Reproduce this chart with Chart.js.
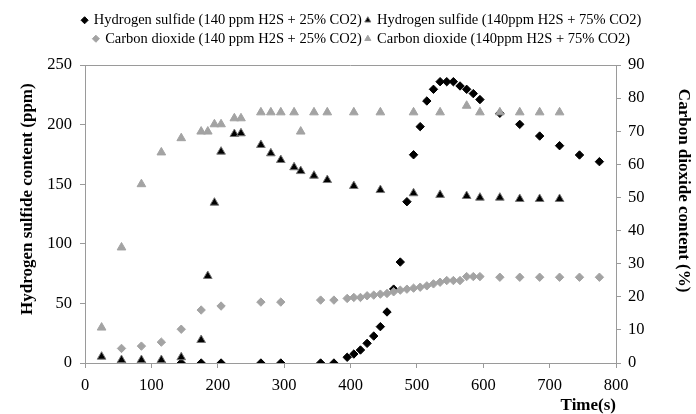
<!DOCTYPE html>
<html>
<head>
<meta charset="utf-8">
<script src="https://cdn.jsdelivr.net/npm/chart.js@4.4.0/dist/chart.umd.min.js"></script>
<style>
  body { margin: 0; background: #fff; }
  canvas { display: block; }
</style>
</head>
<body>
<canvas id="chart" width="696" height="414"></canvas>
<script>
// 140 ppm H2S + 25% CO2
const timeA = [55, 85, 115, 145, 175, 205, 265, 295, 355, 375, 395, 405, 415, 425, 435, 445, 455, 465, 475, 485,
    495, 505, 515, 525, 535, 545, 555, 565, 575, 585, 595, 625, 655, 685, 715, 745, 775];
const h2sA = [0, 0, 0, 0, 0, 0, 0, 0, 0, 0, 4.8, 7.5, 10.9, 16.5, 22.6, 30.5, 42.8, 62, 84.7, 135.3,
    174.7, 198.3, 219.8, 229.6, 236, 236, 236, 232.4, 229.6, 226, 221, 209.5, 200.2, 190.4, 182.3, 174.5, 168.9];
const co2A = [4.4, 5.1, 6.3, 10.2, 16.0, 17.2, 18.4, 18.4, 19.0, 19.0, 19.5, 19.8, 19.8, 20.3, 20.5, 20.8, 21.0, 21.5, 22.0, 22.3,
    22.6, 22.9, 23.3, 23.9, 24.4, 24.9, 24.9, 24.9, 26.1, 26.1, 26.1, 25.9, 25.9, 25.9, 25.9, 25.9, 25.9];

// 140ppm H2S + 75% CO2
const timeB = [25, 55, 85, 115, 145, 175, 185, 195, 205, 225, 235, 265, 280, 295, 315, 325, 345, 365, 405, 445,
    495, 535, 575, 595, 625, 655, 685, 715];
const h2sB = [5.3, 2.5, 2.5, 2.5, 4.8, 19.3, 73, 134.5, 177.3, 192.1, 192.7, 182.9, 175.9, 170.3, 164.2, 161, 157.1, 153.5, 148.5, 145.1,
    142.4, 141, 140.1, 138.7, 138.7, 137.6, 137.6, 137.6];
const co2B = [10.7, 34.9, 54.0, 63.6, 67.9, 69.9, 69.9, 72.1, 72.1, 73.9, 73.9, 75.7, 75.7, 75.7, 75.7, 69.9, 75.7, 75.7, 75.7, 75.7,
    75.7, 75.7, 77.7, 75.7, 75.7, 75.7, 75.7, 75.7];

const seriesNames = [
    'Hydrogen sulfide (140 ppm H2S + 25% CO2)',
    'Hydrogen sulfide (140ppm H2S + 75% CO2)',
    'Carbon dioxide (140 ppm H2S + 25% CO2)',
    'Carbon dioxide (140ppm H2S + 75% CO2)'
];

const GRAY = '#a3a3a3';
const AXIS = '#9a9a9a';
const SERIF = '"Liberation Serif", "Times New Roman", serif';

function toPoints(xs, ys) {
    return xs.map((x, i) => ({ x: x, y: ys[i] }));
}

// box line on top of the plot area, and a bit more room under the legend
const topBorder = {
    id: 'topBorder',
    afterInit(chart) {
        const lg = chart.legend;
        const fit = lg.fit;
        lg.fit = function () { fit.call(this); this.height += 9; };
    },
    afterDraw(chart) {
        const a = chart.chartArea, ctx = chart.ctx;
        ctx.save();
        ctx.strokeStyle = AXIS;
        ctx.lineWidth = 1;
        ctx.beginPath();
        ctx.moveTo(a.left, a.top + 0.5);
        ctx.lineTo(a.right, a.top + 0.5);
        ctx.stroke();
        ctx.restore();
    }
};

new Chart(document.getElementById('chart'), {
    type: 'scatter',
    data: {
        datasets: [{
            label: seriesNames[0],
            data: toPoints(timeA, h2sA),
            yAxisID: 'y',
            pointStyle: 'rectRot',
            pointRadius: 4.2,
            backgroundColor: '#000',
            borderColor: '#000',
            borderWidth: 1,
            order: 4
        }, {
            label: seriesNames[1],
            data: toPoints(timeB, h2sB),
            yAxisID: 'y',
            pointStyle: 'triangle',
            pointRadius: 5,
            backgroundColor: '#000',
            borderColor: '#777',
            borderWidth: 1,
            order: 3
        }, {
            label: seriesNames[2],
            data: toPoints(timeA, co2A),
            yAxisID: 'y2',
            pointStyle: 'rectRot',
            pointRadius: 4.2,
            backgroundColor: GRAY,
            borderColor: GRAY,
            borderWidth: 1,
            order: 2
        }, {
            label: seriesNames[3],
            data: toPoints(timeB, co2B),
            yAxisID: 'y2',
            pointStyle: 'triangle',
            pointRadius: 5,
            backgroundColor: GRAY,
            borderColor: GRAY,
            borderWidth: 1,
            order: 1
        }]
    },
    options: {
        responsive: false,
        animation: false,
        layout: { padding: { top: 9, left: 28, right: 0, bottom: 0 } },
        plugins: {
            tooltip: { enabled: false },
            legend: {
                position: 'top',
                labels: {
                    usePointStyle: true,
                    boxWidth: 4,
                    boxHeight: 5,
                    padding: 4,
                    color: '#000',
                    font: { family: SERIF, size: 14.5 },
                    sort: (a, b) => a.datasetIndex - b.datasetIndex
                }
            }
        },
        scales: {
            x: {
                type: 'linear',
                position: 'bottom',
                min: 0,
                max: 800,
                ticks: { stepSize: 100, padding: 8, color: '#000', font: { family: SERIF, size: 16.5 } },
                grid: { drawOnChartArea: false, drawTicks: true, tickLength: 5, color: AXIS },
                border: { color: AXIS },
                title: {
                    display: true,
                    text: 'Time(s)',
                    align: 'end',
                    color: '#000',
                    padding: { top: 0, bottom: -2 },
                    font: { family: SERIF, size: 17, weight: 'bold' }
                },
                afterFit(scale) { scale.height = 51; }
            },
            y: {
                type: 'linear',
                position: 'left',
                min: 0,
                max: 250,
                ticks: { stepSize: 50, padding: 8, color: '#000', font: { family: SERIF, size: 16.5 } },
                grid: { drawOnChartArea: false, drawTicks: true, tickLength: 5, color: AXIS },
                border: { color: AXIS },
                title: {
                    display: true,
                    text: '       Hydrogen sulfide content (ppm)',
                    color: '#000',
                    padding: { top: -10.7, bottom: 0 },
                    font: { family: SERIF, size: 17, weight: 'bold' }
                },
                afterFit(scale) { scale.width = 57; }
            },
            y2: {
                type: 'linear',
                position: 'right',
                min: 0,
                max: 90,
                ticks: { stepSize: 10, padding: 7, color: '#000', font: { family: SERIF, size: 16.5 } },
                grid: { drawOnChartArea: false, drawTicks: true, tickLength: 5, color: AXIS },
                border: { color: AXIS },
                title: {
                    display: true,
                    text: 'Carbon dioxide content (%)           ',
                    color: '#000',
                    padding: { top: 2.8, bottom: 0 },
                    font: { family: SERIF, size: 17, weight: 'bold' }
                },
                afterFit(scale) { scale.width = 80; }
            }
        }
    },
    plugins: [topBorder]
});
</script>
</body>
</html>
